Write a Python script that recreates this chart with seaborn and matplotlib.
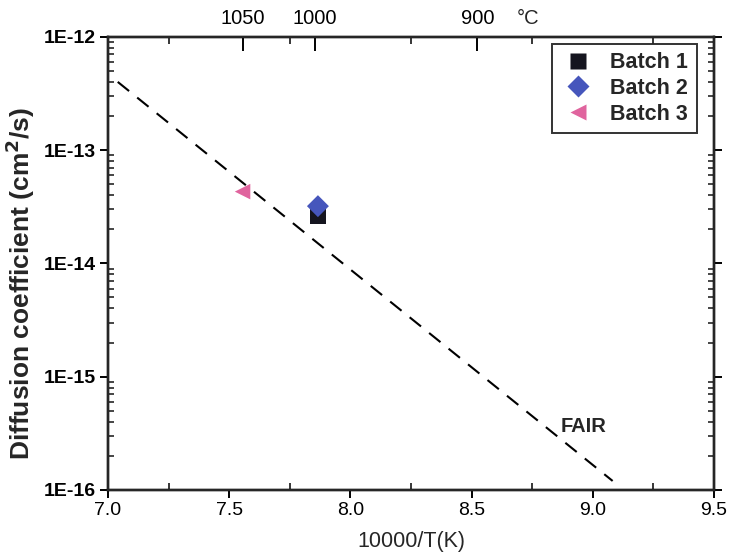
import numpy as np
import pandas as pd
import matplotlib
matplotlib.use("Agg")
import matplotlib.pyplot as plt
import seaborn as sns
from matplotlib.ticker import FixedLocator, FuncFormatter, LogLocator, NullFormatter

# ---- data ----
batches = ["Batch 1", "Batch 2", "Batch 3"]
inv_T = [7.866, 7.866, 7.555]            # 10000/T(K)
diff_coef = [2.6e-14, 3.2e-14, 4.3e-14]  # cm^2/s
batch_colors = ["#15151f", "#4656bc", "#e0649e"]
batch_markers = ["s", "D", "<"]

fair_x = [7.04, 9.082]
fair_y = [4.0e-13, 1.2e-16]

top_temps_C = [1050, 1000, 900]
y_major = [1e-16, 1e-15, 1e-14, 1e-13, 1e-12]

sns.set_theme(style="ticks")
plt.rcParams["font.family"] = ["Liberation Sans", "DejaVu Sans"]

fig = plt.figure(figsize=(7.3, 5.58), dpi=100)
ax = fig.add_axes([0.148, 0.122, 0.830, 0.812])

df_pts = pd.DataFrame({"batch": batches, "x": inv_T, "D": diff_coef})
df_line = pd.DataFrame({"x": fair_x, "D": fair_y})

sns.lineplot(data=df_line, x="x", y="D", ax=ax, color="black", lw=1.5,
             legend=False)
ax.lines[-1].set_dashes([7, 5])

sns.scatterplot(data=df_pts, x="x", y="D", hue="batch", style="batch",
                palette=dict(zip(batches, batch_colors)),
                markers=dict(zip(batches, batch_markers)),
                s=125, edgecolor="none", ax=ax, zorder=3)

ax.set_yscale("log")
ax.set_xlim(7.0, 9.5)
ax.set_ylim(1e-16, 1e-12)

ax.yaxis.set_major_locator(FixedLocator(y_major))
ax.yaxis.set_major_formatter(FuncFormatter(lambda v, p: f"1E{int(round(np.log10(v)))}"))
ax.yaxis.set_minor_locator(LogLocator(base=10, subs=np.arange(2, 10)))
ax.yaxis.set_minor_formatter(NullFormatter())
ax.set_xticks([7.0, 7.5, 8.0, 8.5, 9.0, 9.5])
ax.xaxis.set_major_formatter(FuncFormatter(lambda v, p: f"{v:.1f}"))
ax.xaxis.set_minor_locator(FixedLocator([7.25, 7.75, 8.25, 8.75, 9.25]))

for s in ax.spines.values():
    s.set_linewidth(1.7)
    s.set_color("black")

ax.tick_params(axis="both", which="major", labelsize=14, direction="out",
               length=6, width=1.4, color="black", labelcolor="black", pad=3)
ax.tick_params(axis="x", which="minor", direction="in", length=5, width=1.3,
               bottom=True, top=False)
ax.tick_params(axis="y", which="minor", direction="in", length=4, width=1.2,
               left=True, right=True)
ax.tick_params(axis="y", which="major", right=True)
for t in ax.get_yticklabels():
    t.set_fontweight("bold")

ax.set_xlabel("10000/T(K)", fontsize=15.5, labelpad=8)
ax.set_ylabel("Diffusion coefficient (cm$^\\mathbf{2}$/s)", fontsize=19,
              fontweight="bold", labelpad=4)
ax.yaxis.set_label_coords(-0.118, 0.455)

# top temperature axis
axt = ax.twiny()
axt.set_xlim(ax.get_xlim())
axt.set_xticks([10000.0 / (t + 273.15) for t in top_temps_C])
axt.set_xticklabels([str(t) for t in top_temps_C], fontsize=14.5)
axt.xaxis.set_minor_locator(FixedLocator([7.25, 7.75, 8.25, 8.75, 9.25]))
axt.tick_params(axis="x", which="major", direction="in", length=10, width=1.4,
                pad=6, colors="black")
axt.tick_params(axis="x", which="minor", direction="in", length=5, width=1.3)
for s in axt.spines.values():
    s.set_linewidth(1.7)
axt.annotate("°C", xy=(10000.0 / (900 + 273.15) + 0.21, 1.0),
             xycoords=axt.get_xaxis_transform(), xytext=(0, 6),
             textcoords="offset points", ha="center", va="bottom",
             fontsize=14.5)

ax.text(8.96, 10 ** -15.44, "FAIR", fontsize=14.5, fontweight="bold",
        ha="center", va="center")

leg = ax.legend(loc="upper right", bbox_to_anchor=(0.972, 0.985),
                frameon=True, fancybox=False, fontsize=15.5,
                borderpad=0.4, handletextpad=0.7, labelspacing=0.22,
                borderaxespad=0.0, edgecolor="black", handlelength=1.6)
leg.get_frame().set_linewidth(1.4)
for t in leg.get_texts():
    t.set_fontweight("bold")

fig.savefig("out.png", dpi=100, facecolor="white")
